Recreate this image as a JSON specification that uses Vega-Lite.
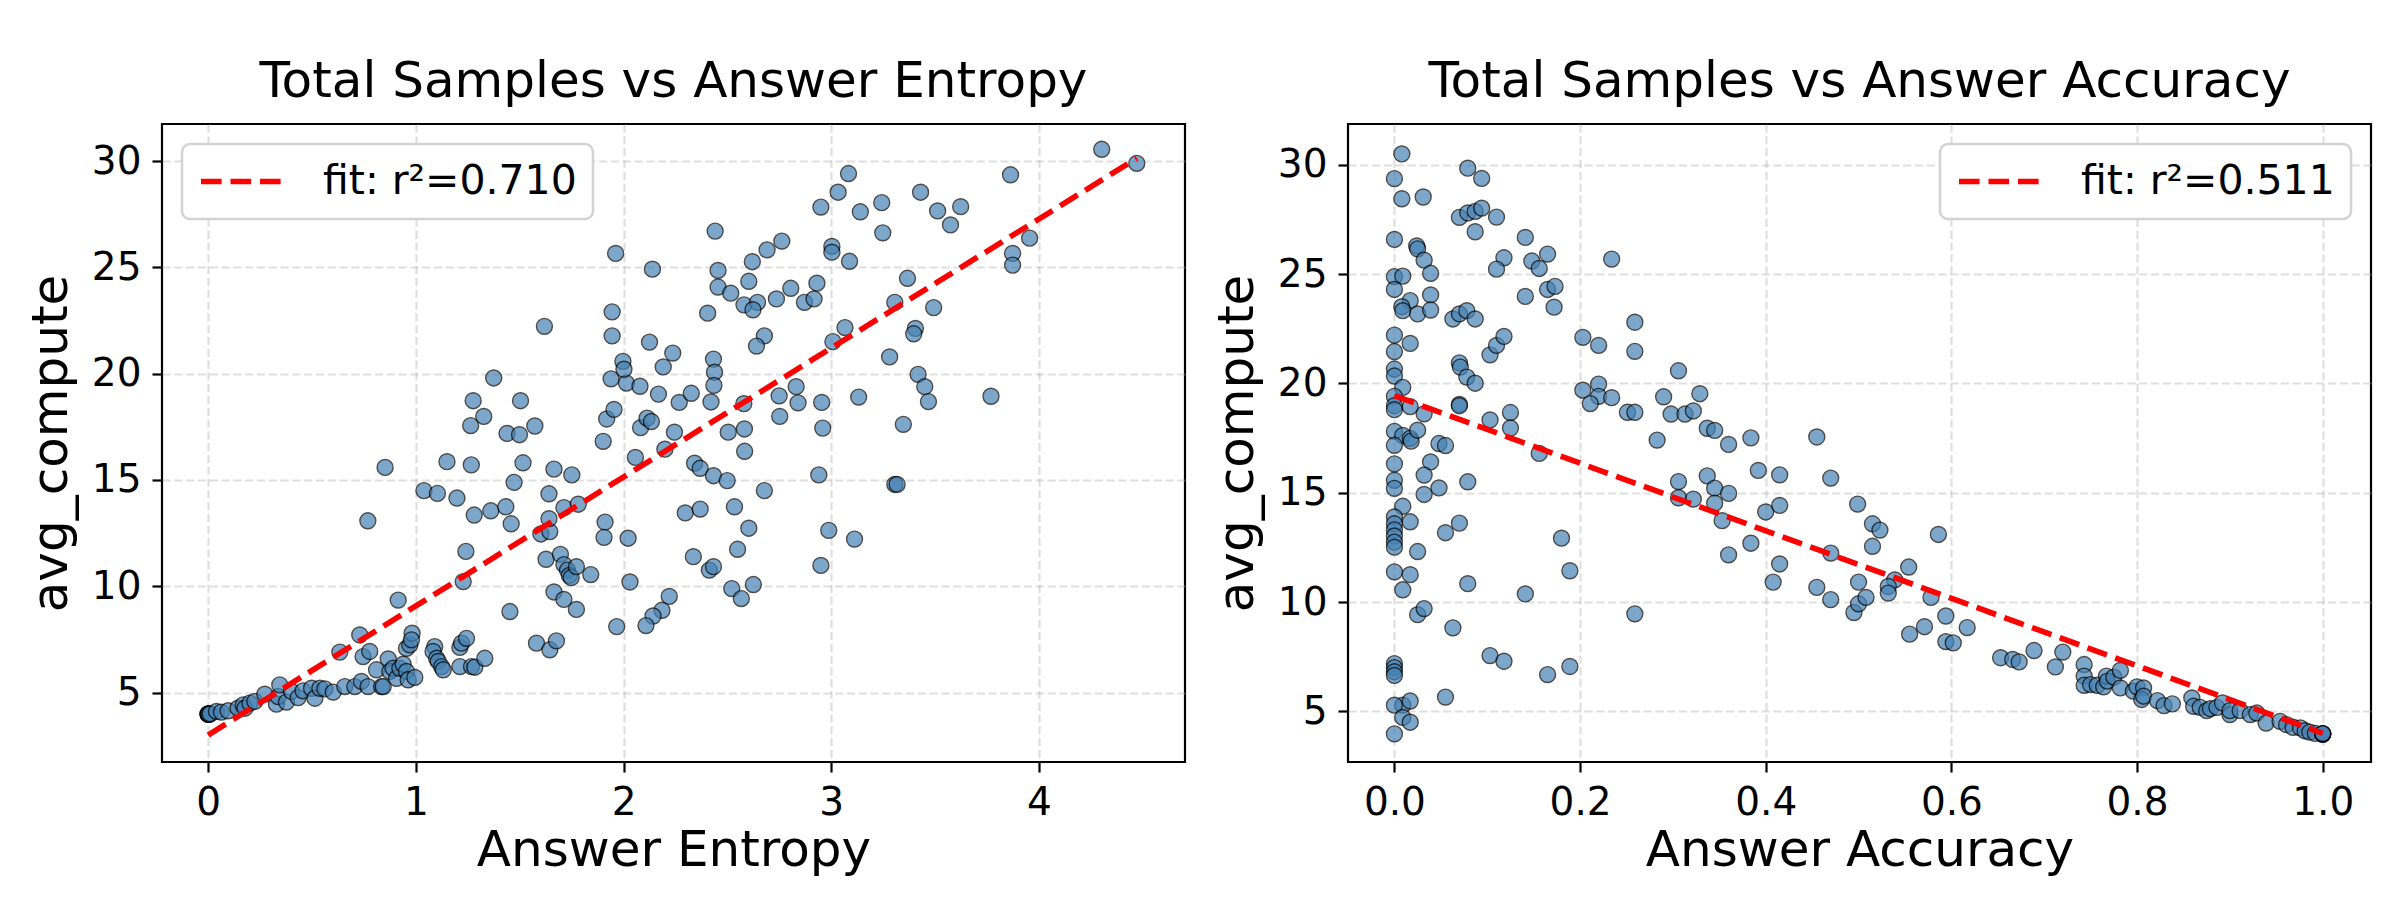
{
  "$schema": "https://vega.github.io/schema/vega-lite/v6.json",
  "padding": {"left": 25, "top": 55, "right": 0, "bottom": 0},
  "background": "white",
  "datasets": {
    "entropy_pts": [
      {"entropy": 0, "avg_compute": 3.98}, {"entropy": 0, "avg_compute": 3.98}, {"entropy": 0, "avg_compute": 3.98},
      {"entropy": 0, "avg_compute": 4.0}, {"entropy": 0.005, "avg_compute": 3.97}, {"entropy": 0.01, "avg_compute": 4.0},
      {"entropy": 0.040, "avg_compute": 4.11}, {"entropy": 0.064, "avg_compute": 4.08}, {"entropy": 0.096, "avg_compute": 4.14},
      {"entropy": 0.144, "avg_compute": 4.26}, {"entropy": 0.169, "avg_compute": 4.42}, {"entropy": 0.177, "avg_compute": 4.26},
      {"entropy": 0.201, "avg_compute": 4.50}, {"entropy": 0.225, "avg_compute": 4.58}, {"entropy": 0.273, "avg_compute": 4.92},
      {"entropy": 0.329, "avg_compute": 4.45}, {"entropy": 0.337, "avg_compute": 4.81}, {"entropy": 0.345, "avg_compute": 5.36},
      {"entropy": 0.377, "avg_compute": 4.55}, {"entropy": 0.401, "avg_compute": 5.05}, {"entropy": 0.433, "avg_compute": 4.76},
      {"entropy": 0.457, "avg_compute": 5.08}, {"entropy": 0.498, "avg_compute": 5.20}, {"entropy": 0.514, "avg_compute": 4.73},
      {"entropy": 0.538, "avg_compute": 5.20}, {"entropy": 0.562, "avg_compute": 5.17}, {"entropy": 0.602, "avg_compute": 5.02},
      {"entropy": 0.634, "avg_compute": 6.90}, {"entropy": 0.658, "avg_compute": 5.28}, {"entropy": 0.706, "avg_compute": 5.28},
      {"entropy": 0.730, "avg_compute": 7.71}, {"entropy": 0.738, "avg_compute": 5.52}, {"entropy": 0.746, "avg_compute": 6.69},
      {"entropy": 0.770, "avg_compute": 5.28}, {"entropy": 0.778, "avg_compute": 6.93}, {"entropy": 0.811, "avg_compute": 6.07},
      {"entropy": 0.835, "avg_compute": 5.28}, {"entropy": 0.843, "avg_compute": 5.28}, {"entropy": 0.867, "avg_compute": 6.58},
      {"entropy": 0.875, "avg_compute": 5.99}, {"entropy": 0.891, "avg_compute": 6.14}, {"entropy": 0.907, "avg_compute": 5.67},
      {"entropy": 0.915, "avg_compute": 9.35}, {"entropy": 0.923, "avg_compute": 6.14}, {"entropy": 0.939, "avg_compute": 6.33},
      {"entropy": 0.955, "avg_compute": 5.99}, {"entropy": 0.963, "avg_compute": 5.60}, {"entropy": 0.955, "avg_compute": 7.08},
      {"entropy": 0.971, "avg_compute": 7.24}, {"entropy": 0.982, "avg_compute": 7.79}, {"entropy": 0.979, "avg_compute": 7.48},
      {"entropy": 0.995, "avg_compute": 5.71}, {"entropy": 1.091, "avg_compute": 7.16}, {"entropy": 1.083, "avg_compute": 6.93},
      {"entropy": 1.100, "avg_compute": 6.61}, {"entropy": 1.108, "avg_compute": 6.46}, {"entropy": 1.124, "avg_compute": 6.22},
      {"entropy": 1.132, "avg_compute": 6.07}, {"entropy": 1.212, "avg_compute": 7.12}, {"entropy": 1.220, "avg_compute": 7.32},
      {"entropy": 1.244, "avg_compute": 7.55}, {"entropy": 1.212, "avg_compute": 6.22}, {"entropy": 1.268, "avg_compute": 6.22},
      {"entropy": 1.284, "avg_compute": 6.19}, {"entropy": 1.332, "avg_compute": 6.61}, {"entropy": 1.228, "avg_compute": 10.22},
      {"entropy": 1.453, "avg_compute": 8.81}, {"entropy": 1.581, "avg_compute": 7.32}, {"entropy": 1.645, "avg_compute": 7.01},
      {"entropy": 1.677, "avg_compute": 7.43},
      {"entropy": 0.769, "avg_compute": 13.08}, {"entropy": 0.852, "avg_compute": 15.59}, {"entropy": 1.039, "avg_compute": 14.50},
      {"entropy": 1.104, "avg_compute": 14.37}, {"entropy": 1.198, "avg_compute": 14.15}, {"entropy": 1.241, "avg_compute": 11.64},
      {"entropy": 1.281, "avg_compute": 13.35}, {"entropy": 1.361, "avg_compute": 13.55}, {"entropy": 1.433, "avg_compute": 13.74},
      {"entropy": 1.459, "avg_compute": 12.94}, {"entropy": 1.602, "avg_compute": 12.46}, {"entropy": 1.645, "avg_compute": 12.57},
      {"entropy": 1.641, "avg_compute": 13.18}, {"entropy": 1.641, "avg_compute": 14.35}, {"entropy": 1.627, "avg_compute": 11.27},
      {"entropy": 1.665, "avg_compute": 9.73}, {"entropy": 1.713, "avg_compute": 9.38}, {"entropy": 1.773, "avg_compute": 8.91},
      {"entropy": 1.696, "avg_compute": 11.50}, {"entropy": 1.713, "avg_compute": 11.02}, {"entropy": 1.730, "avg_compute": 10.76},
      {"entropy": 1.739, "avg_compute": 10.51}, {"entropy": 1.748, "avg_compute": 10.41}, {"entropy": 1.773, "avg_compute": 10.92},
      {"entropy": 1.842, "avg_compute": 10.55}, {"entropy": 1.713, "avg_compute": 13.70}, {"entropy": 1.782, "avg_compute": 13.86},
      {"entropy": 1.751, "avg_compute": 15.24}, {"entropy": 1.665, "avg_compute": 15.51}, {"entropy": 1.516, "avg_compute": 15.81},
      {"entropy": 1.473, "avg_compute": 14.89}, {"entropy": 1.267, "avg_compute": 15.71}, {"entropy": 1.150, "avg_compute": 15.86},
      {"entropy": 1.264, "avg_compute": 17.56}, {"entropy": 1.327, "avg_compute": 17.99}, {"entropy": 1.276, "avg_compute": 18.73},
      {"entropy": 1.375, "avg_compute": 19.80}, {"entropy": 1.439, "avg_compute": 17.19}, {"entropy": 1.499, "avg_compute": 17.13},
      {"entropy": 1.504, "avg_compute": 18.73}, {"entropy": 1.573, "avg_compute": 17.54}, {"entropy": 1.619, "avg_compute": 22.23},
      {"entropy": 1.902, "avg_compute": 16.82}, {"entropy": 1.919, "avg_compute": 17.87}, {"entropy": 1.954, "avg_compute": 18.32},
      {"entropy": 1.940, "avg_compute": 19.76}, {"entropy": 2.014, "avg_compute": 19.56}, {"entropy": 1.997, "avg_compute": 20.58},
      {"entropy": 2.002, "avg_compute": 20.21}, {"entropy": 2.079, "avg_compute": 19.41}, {"entropy": 1.945, "avg_compute": 21.78},
      {"entropy": 1.945, "avg_compute": 22.91}, {"entropy": 1.962, "avg_compute": 25.66}, {"entropy": 2.139, "avg_compute": 24.92},
      {"entropy": 2.125, "avg_compute": 21.49}, {"entropy": 2.191, "avg_compute": 20.32}, {"entropy": 2.237, "avg_compute": 20.97},
      {"entropy": 2.168, "avg_compute": 19.04}, {"entropy": 2.268, "avg_compute": 18.65}, {"entropy": 2.082, "avg_compute": 17.46},
      {"entropy": 2.113, "avg_compute": 17.91}, {"entropy": 2.134, "avg_compute": 17.75}, {"entropy": 2.245, "avg_compute": 17.25},
      {"entropy": 2.199, "avg_compute": 16.45}, {"entropy": 2.057, "avg_compute": 16.06}, {"entropy": 1.911, "avg_compute": 13.02},
      {"entropy": 1.906, "avg_compute": 12.30}, {"entropy": 2.022, "avg_compute": 12.26}, {"entropy": 2.031, "avg_compute": 10.20},
      {"entropy": 2.297, "avg_compute": 13.45}, {"entropy": 2.220, "avg_compute": 9.52}, {"entropy": 2.185, "avg_compute": 8.87},
      {"entropy": 2.142, "avg_compute": 8.60}, {"entropy": 2.108, "avg_compute": 8.15}, {"entropy": 1.967, "avg_compute": 8.10},
      {"entropy": 4.302, "avg_compute": 30.56}, {"entropy": 4.471, "avg_compute": 29.90}, {"entropy": 3.863, "avg_compute": 29.36},
      {"entropy": 3.083, "avg_compute": 29.42}, {"entropy": 3.033, "avg_compute": 28.54}, {"entropy": 2.950, "avg_compute": 27.84},
      {"entropy": 3.430, "avg_compute": 28.54}, {"entropy": 3.140, "avg_compute": 27.62}, {"entropy": 3.243, "avg_compute": 28.05},
      {"entropy": 3.512, "avg_compute": 27.66}, {"entropy": 3.623, "avg_compute": 27.86}, {"entropy": 3.574, "avg_compute": 27.00},
      {"entropy": 3.248, "avg_compute": 26.63}, {"entropy": 2.441, "avg_compute": 26.71}, {"entropy": 2.762, "avg_compute": 26.24},
      {"entropy": 2.691, "avg_compute": 25.83}, {"entropy": 2.620, "avg_compute": 25.27}, {"entropy": 2.455, "avg_compute": 24.86},
      {"entropy": 3.003, "avg_compute": 25.99}, {"entropy": 3.003, "avg_compute": 25.72}, {"entropy": 3.088, "avg_compute": 25.29},
      {"entropy": 3.955, "avg_compute": 26.38}, {"entropy": 3.873, "avg_compute": 25.66}, {"entropy": 3.873, "avg_compute": 25.11},
      {"entropy": 2.603, "avg_compute": 24.35}, {"entropy": 2.455, "avg_compute": 24.08}, {"entropy": 2.516, "avg_compute": 23.79},
      {"entropy": 2.580, "avg_compute": 23.24}, {"entropy": 2.645, "avg_compute": 23.36}, {"entropy": 2.623, "avg_compute": 23.01},
      {"entropy": 2.736, "avg_compute": 23.52}, {"entropy": 2.805, "avg_compute": 24.02}, {"entropy": 2.871, "avg_compute": 23.36},
      {"entropy": 2.931, "avg_compute": 24.26}, {"entropy": 2.917, "avg_compute": 23.52}, {"entropy": 3.367, "avg_compute": 24.49},
      {"entropy": 3.306, "avg_compute": 23.36}, {"entropy": 3.493, "avg_compute": 23.11}, {"entropy": 2.405, "avg_compute": 22.85},
      {"entropy": 3.066, "avg_compute": 22.17}, {"entropy": 3.008, "avg_compute": 21.51}, {"entropy": 3.405, "avg_compute": 22.13},
      {"entropy": 3.397, "avg_compute": 21.88}, {"entropy": 2.678, "avg_compute": 21.78}, {"entropy": 2.640, "avg_compute": 21.30},
      {"entropy": 3.281, "avg_compute": 20.79}, {"entropy": 2.433, "avg_compute": 20.69}, {"entropy": 2.438, "avg_compute": 20.07},
      {"entropy": 2.435, "avg_compute": 19.45}, {"entropy": 2.326, "avg_compute": 19.08}, {"entropy": 2.421, "avg_compute": 18.67},
      {"entropy": 2.579, "avg_compute": 18.59}, {"entropy": 2.749, "avg_compute": 18.96}, {"entropy": 2.831, "avg_compute": 19.39},
      {"entropy": 2.840, "avg_compute": 18.63}, {"entropy": 2.954, "avg_compute": 18.65}, {"entropy": 3.132, "avg_compute": 18.90},
      {"entropy": 3.418, "avg_compute": 19.97}, {"entropy": 3.450, "avg_compute": 19.39}, {"entropy": 3.468, "avg_compute": 18.69},
      {"entropy": 3.769, "avg_compute": 18.94}, {"entropy": 2.752, "avg_compute": 17.99}, {"entropy": 2.504, "avg_compute": 17.25},
      {"entropy": 2.582, "avg_compute": 17.40}, {"entropy": 2.959, "avg_compute": 17.44}, {"entropy": 3.347, "avg_compute": 17.62},
      {"entropy": 2.583, "avg_compute": 16.35}, {"entropy": 2.342, "avg_compute": 15.79}, {"entropy": 2.369, "avg_compute": 15.55},
      {"entropy": 2.433, "avg_compute": 15.20}, {"entropy": 2.499, "avg_compute": 14.97}, {"entropy": 2.940, "avg_compute": 15.24},
      {"entropy": 2.678, "avg_compute": 14.50}, {"entropy": 3.306, "avg_compute": 14.79}, {"entropy": 3.317, "avg_compute": 14.79},
      {"entropy": 2.369, "avg_compute": 13.63}, {"entropy": 2.534, "avg_compute": 13.74}, {"entropy": 2.603, "avg_compute": 12.73},
      {"entropy": 2.988, "avg_compute": 12.63}, {"entropy": 3.112, "avg_compute": 12.22}, {"entropy": 2.336, "avg_compute": 11.39},
      {"entropy": 2.549, "avg_compute": 11.74}, {"entropy": 2.413, "avg_compute": 10.76}, {"entropy": 2.433, "avg_compute": 10.92},
      {"entropy": 2.950, "avg_compute": 10.98}, {"entropy": 2.521, "avg_compute": 9.89}, {"entropy": 2.567, "avg_compute": 9.42},
      {"entropy": 2.625, "avg_compute": 10.08}
    ],
    "accuracy_pts": [
      {"accuracy": 0.008, "avg_compute": 30.50}, {"accuracy": 0, "avg_compute": 29.37}, {"accuracy": 0.008, "avg_compute": 28.45},
      {"accuracy": 0.031, "avg_compute": 28.53}, {"accuracy": 0, "avg_compute": 26.59}, {"accuracy": 0.024, "avg_compute": 26.29},
      {"accuracy": 0.025, "avg_compute": 26.16}, {"accuracy": 0.032, "avg_compute": 25.64}, {"accuracy": 0.039, "avg_compute": 25.04},
      {"accuracy": 0, "avg_compute": 24.89}, {"accuracy": 0.009, "avg_compute": 24.91}, {"accuracy": 0, "avg_compute": 24.30},
      {"accuracy": 0.017, "avg_compute": 23.79}, {"accuracy": 0.008, "avg_compute": 23.51}, {"accuracy": 0.009, "avg_compute": 23.33},
      {"accuracy": 0.025, "avg_compute": 23.18}, {"accuracy": 0.039, "avg_compute": 24.05}, {"accuracy": 0.039, "avg_compute": 23.36},
      {"accuracy": 0, "avg_compute": 22.21}, {"accuracy": 0.017, "avg_compute": 21.83}, {"accuracy": 0, "avg_compute": 21.46},
      {"accuracy": 0, "avg_compute": 20.66}, {"accuracy": 0, "avg_compute": 20.34}, {"accuracy": 0.009, "avg_compute": 19.82},
      {"accuracy": 0, "avg_compute": 19.41}, {"accuracy": 0, "avg_compute": 18.98}, {"accuracy": 0, "avg_compute": 18.80},
      {"accuracy": 0.017, "avg_compute": 18.94}, {"accuracy": 0.032, "avg_compute": 18.61}, {"accuracy": 0, "avg_compute": 17.81},
      {"accuracy": 0.009, "avg_compute": 17.62}, {"accuracy": 0.017, "avg_compute": 17.49}, {"accuracy": 0.018, "avg_compute": 17.36},
      {"accuracy": 0.025, "avg_compute": 17.86}, {"accuracy": 0, "avg_compute": 17.17}, {"accuracy": 0, "avg_compute": 16.32},
      {"accuracy": 0, "avg_compute": 15.57}, {"accuracy": 0, "avg_compute": 15.20}, {"accuracy": 0.039, "avg_compute": 16.41},
      {"accuracy": 0.032, "avg_compute": 15.81}, {"accuracy": 0.032, "avg_compute": 14.92}, {"accuracy": 0.048, "avg_compute": 15.22},
      {"accuracy": 0.009, "avg_compute": 14.38}, {"accuracy": 0, "avg_compute": 13.89}, {"accuracy": 0, "avg_compute": 13.58},
      {"accuracy": 0, "avg_compute": 13.30}, {"accuracy": 0, "avg_compute": 13.02}, {"accuracy": 0, "avg_compute": 12.74},
      {"accuracy": 0, "avg_compute": 12.51}, {"accuracy": 0.017, "avg_compute": 13.67}, {"accuracy": 0.025, "avg_compute": 12.31},
      {"accuracy": 0, "avg_compute": 11.38}, {"accuracy": 0.017, "avg_compute": 11.25}, {"accuracy": 0.009, "avg_compute": 10.56},
      {"accuracy": 0.025, "avg_compute": 9.42}, {"accuracy": 0.032, "avg_compute": 9.70}, {"accuracy": 0, "avg_compute": 7.18},
      {"accuracy": 0, "avg_compute": 7.00}, {"accuracy": 0, "avg_compute": 6.81}, {"accuracy": 0, "avg_compute": 6.64},
      {"accuracy": 0.009, "avg_compute": 5.28}, {"accuracy": 0.017, "avg_compute": 5.47}, {"accuracy": 0, "avg_compute": 5.28},
      {"accuracy": 0.009, "avg_compute": 4.72}, {"accuracy": 0.017, "avg_compute": 4.50}, {"accuracy": 0, "avg_compute": 3.97},
      {"accuracy": 0.048, "avg_compute": 17.25}, {"accuracy": 0.055, "avg_compute": 17.16}, {"accuracy": 0.063, "avg_compute": 22.95},
      {"accuracy": 0.070, "avg_compute": 23.18}, {"accuracy": 0.078, "avg_compute": 23.33}, {"accuracy": 0.087, "avg_compute": 22.95},
      {"accuracy": 0.070, "avg_compute": 20.94}, {"accuracy": 0.071, "avg_compute": 20.75}, {"accuracy": 0.078, "avg_compute": 20.29},
      {"accuracy": 0.087, "avg_compute": 20.01}, {"accuracy": 0.070, "avg_compute": 19.04}, {"accuracy": 0.070, "avg_compute": 18.98},
      {"accuracy": 0.103, "avg_compute": 21.31}, {"accuracy": 0.110, "avg_compute": 21.74}, {"accuracy": 0.118, "avg_compute": 22.15},
      {"accuracy": 0.103, "avg_compute": 18.33}, {"accuracy": 0.125, "avg_compute": 18.67}, {"accuracy": 0.125, "avg_compute": 17.96},
      {"accuracy": 0.079, "avg_compute": 15.50}, {"accuracy": 0.070, "avg_compute": 13.61}, {"accuracy": 0.055, "avg_compute": 13.17},
      {"accuracy": 0.079, "avg_compute": 10.84}, {"accuracy": 0.063, "avg_compute": 8.82}, {"accuracy": 0.103, "avg_compute": 7.55},
      {"accuracy": 0.118, "avg_compute": 7.29}, {"accuracy": 0.055, "avg_compute": 5.65}, {"accuracy": 0.079, "avg_compute": 29.85},
      {"accuracy": 0.094, "avg_compute": 29.38}, {"accuracy": 0.070, "avg_compute": 27.60}, {"accuracy": 0.079, "avg_compute": 27.80},
      {"accuracy": 0.087, "avg_compute": 27.87}, {"accuracy": 0.094, "avg_compute": 28.02}, {"accuracy": 0.110, "avg_compute": 27.61},
      {"accuracy": 0.087, "avg_compute": 26.94}, {"accuracy": 0.141, "avg_compute": 26.68}, {"accuracy": 0.118, "avg_compute": 25.75},
      {"accuracy": 0.110, "avg_compute": 25.23}, {"accuracy": 0.148, "avg_compute": 25.60}, {"accuracy": 0.165, "avg_compute": 25.92},
      {"accuracy": 0.156, "avg_compute": 25.26}, {"accuracy": 0.141, "avg_compute": 23.98}, {"accuracy": 0.165, "avg_compute": 24.30},
      {"accuracy": 0.173, "avg_compute": 24.44}, {"accuracy": 0.172, "avg_compute": 23.49}, {"accuracy": 0.234, "avg_compute": 25.69},
      {"accuracy": 0.203, "avg_compute": 22.11}, {"accuracy": 0.220, "avg_compute": 21.74}, {"accuracy": 0.203, "avg_compute": 19.69},
      {"accuracy": 0.220, "avg_compute": 19.97}, {"accuracy": 0.220, "avg_compute": 19.41}, {"accuracy": 0.211, "avg_compute": 19.08},
      {"accuracy": 0.234, "avg_compute": 19.35}, {"accuracy": 0.156, "avg_compute": 16.80}, {"accuracy": 0.180, "avg_compute": 12.92},
      {"accuracy": 0.189, "avg_compute": 11.43}, {"accuracy": 0.141, "avg_compute": 10.37}, {"accuracy": 0.165, "avg_compute": 6.68},
      {"accuracy": 0.189, "avg_compute": 7.05},
      {"accuracy": 0.259, "avg_compute": 22.80}, {"accuracy": 0.259, "avg_compute": 21.47}, {"accuracy": 0.251, "avg_compute": 18.68},
      {"accuracy": 0.259, "avg_compute": 18.68}, {"accuracy": 0.259, "avg_compute": 9.46}, {"accuracy": 0.306, "avg_compute": 20.58},
      {"accuracy": 0.290, "avg_compute": 19.39}, {"accuracy": 0.298, "avg_compute": 18.60}, {"accuracy": 0.313, "avg_compute": 18.60},
      {"accuracy": 0.322, "avg_compute": 18.74}, {"accuracy": 0.329, "avg_compute": 19.53}, {"accuracy": 0.283, "avg_compute": 17.41},
      {"accuracy": 0.337, "avg_compute": 17.95}, {"accuracy": 0.345, "avg_compute": 17.85}, {"accuracy": 0.360, "avg_compute": 17.21},
      {"accuracy": 0.384, "avg_compute": 17.51}, {"accuracy": 0.306, "avg_compute": 15.51}, {"accuracy": 0.306, "avg_compute": 14.77},
      {"accuracy": 0.322, "avg_compute": 14.71}, {"accuracy": 0.337, "avg_compute": 15.77}, {"accuracy": 0.345, "avg_compute": 15.21},
      {"accuracy": 0.345, "avg_compute": 14.52}, {"accuracy": 0.360, "avg_compute": 14.97}, {"accuracy": 0.353, "avg_compute": 13.72},
      {"accuracy": 0.360, "avg_compute": 12.16}, {"accuracy": 0.384, "avg_compute": 12.69}, {"accuracy": 0.392, "avg_compute": 16.02},
      {"accuracy": 0.400, "avg_compute": 14.12}, {"accuracy": 0.415, "avg_compute": 15.82}, {"accuracy": 0.415, "avg_compute": 14.42},
      {"accuracy": 0.415, "avg_compute": 11.74}, {"accuracy": 0.408, "avg_compute": 10.91}, {"accuracy": 0.455, "avg_compute": 17.55},
      {"accuracy": 0.470, "avg_compute": 15.67}, {"accuracy": 0.470, "avg_compute": 12.24}, {"accuracy": 0.455, "avg_compute": 10.67},
      {"accuracy": 0.470, "avg_compute": 10.11}, {"accuracy": 0.499, "avg_compute": 14.48}, {"accuracy": 0.500, "avg_compute": 10.91},
      {"accuracy": 0.495, "avg_compute": 9.52}, {"accuracy": 0.500, "avg_compute": 9.92},
      {"accuracy": 0.515, "avg_compute": 13.58}, {"accuracy": 0.523, "avg_compute": 13.29}, {"accuracy": 0.515, "avg_compute": 12.55},
      {"accuracy": 0.554, "avg_compute": 11.60}, {"accuracy": 0.539, "avg_compute": 11.01}, {"accuracy": 0.532, "avg_compute": 10.71},
      {"accuracy": 0.532, "avg_compute": 10.41}, {"accuracy": 0.508, "avg_compute": 10.21}, {"accuracy": 0.586, "avg_compute": 13.09},
      {"accuracy": 0.578, "avg_compute": 10.21}, {"accuracy": 0.594, "avg_compute": 9.36}, {"accuracy": 0.617, "avg_compute": 8.83},
      {"accuracy": 0.571, "avg_compute": 8.87}, {"accuracy": 0.555, "avg_compute": 8.53}, {"accuracy": 0.594, "avg_compute": 8.19},
      {"accuracy": 0.602, "avg_compute": 8.13},
      {"accuracy": 0.653, "avg_compute": 7.45}, {"accuracy": 0.666, "avg_compute": 7.37}, {"accuracy": 0.673, "avg_compute": 7.26},
      {"accuracy": 0.689, "avg_compute": 7.78}, {"accuracy": 0.712, "avg_compute": 7.03}, {"accuracy": 0.720, "avg_compute": 7.71},
      {"accuracy": 0.743, "avg_compute": 7.14}, {"accuracy": 0.743, "avg_compute": 6.61}, {"accuracy": 0.743, "avg_compute": 6.19},
      {"accuracy": 0.750, "avg_compute": 6.22}, {"accuracy": 0.757, "avg_compute": 6.19}, {"accuracy": 0.764, "avg_compute": 6.12},
      {"accuracy": 0.767, "avg_compute": 6.61}, {"accuracy": 0.768, "avg_compute": 6.38}, {"accuracy": 0.775, "avg_compute": 6.56},
      {"accuracy": 0.782, "avg_compute": 6.87}, {"accuracy": 0.782, "avg_compute": 6.07}, {"accuracy": 0.796, "avg_compute": 5.92},
      {"accuracy": 0.800, "avg_compute": 6.12}, {"accuracy": 0.807, "avg_compute": 6.07}, {"accuracy": 0.805, "avg_compute": 5.54},
      {"accuracy": 0.807, "avg_compute": 5.69}, {"accuracy": 0.822, "avg_compute": 5.49}, {"accuracy": 0.829, "avg_compute": 5.26},
      {"accuracy": 0.838, "avg_compute": 5.34}, {"accuracy": 0.859, "avg_compute": 5.61}, {"accuracy": 0.861, "avg_compute": 5.23},
      {"accuracy": 0.868, "avg_compute": 5.18}, {"accuracy": 0.875, "avg_compute": 5.03}, {"accuracy": 0.879, "avg_compute": 5.12},
      {"accuracy": 0.886, "avg_compute": 5.18}, {"accuracy": 0.892, "avg_compute": 5.38}, {"accuracy": 0.900, "avg_compute": 4.85},
      {"accuracy": 0.900, "avg_compute": 5.03}, {"accuracy": 0.911, "avg_compute": 5.03}, {"accuracy": 0.922, "avg_compute": 4.85},
      {"accuracy": 0.929, "avg_compute": 4.92}, {"accuracy": 0.939, "avg_compute": 4.46}, {"accuracy": 0.954, "avg_compute": 4.54},
      {"accuracy": 0.961, "avg_compute": 4.39}, {"accuracy": 0.968, "avg_compute": 4.27}, {"accuracy": 0.976, "avg_compute": 4.24},
      {"accuracy": 0.981, "avg_compute": 4.11}, {"accuracy": 0.986, "avg_compute": 4.05}, {"accuracy": 0.992, "avg_compute": 3.99},
      {"accuracy": 1.0, "avg_compute": 3.96}, {"accuracy": 1.0, "avg_compute": 3.96}, {"accuracy": 1.0, "avg_compute": 3.96},
      {"accuracy": 1.0, "avg_compute": 3.97}, {"accuracy": 1.0, "avg_compute": 3.98}
    ],
    "entropy_fit": [
      {"entropy": 0, "avg_compute": 3.0, "series": "fit: r²=0.710"},
      {"entropy": 4.471, "avg_compute": 30.14, "series": "fit: r²=0.710"}
    ],
    "accuracy_fit": [
      {"accuracy": 0, "avg_compute": 19.44, "series": "fit: r²=0.511"},
      {"accuracy": 1.0, "avg_compute": 3.99, "series": "fit: r²=0.511"}
    ]
  },
  "config": {
    "font": "DejaVu Sans",
    "view": {"stroke": "black", "strokeWidth": 2.2},
    "axis": {
      "labelFont": "DejaVu Sans", "labelFontSize": 39, "labelColor": "black",
      "titleFont": "DejaVu Sans", "titleFontSize": 50, "titleFontWeight": "normal", "titleColor": "black",
      "tickColor": "black", "tickSize": 10, "tickWidth": 2.2, "domain": false,
      "grid": true, "gridColor": "#b0b0b0", "gridOpacity": 0.4, "gridDash": [8.2, 3.6], "gridWidth": 2.2,
      "labelPadding": 11, "titlePadding": 15
    },
    "axisX": {"titlePadding": 3},
    "title": {"font": "DejaVu Sans", "fontSize": 50, "fontWeight": "normal", "color": "black", "baseline": "alphabetic", "offset": 17, "frame": "group", "anchor": "middle"},
    "legend": {
      "title": null, "symbolType": "stroke", "symbolSize": 6561, "symbolStrokeWidth": 5.6, "symbolDash": [20.6, 8.9],
      "symbolStrokeColor": "red", "labelFont": "DejaVu Sans", "labelFontSize": 41, "labelColor": "black", "labelOffset": 38,
      "labelLimit": 0, "padding": 16, "clipHeight": 43, "fillColor": "white", "strokeColor": "#d3d3d3", "strokeWidth": 2.5, "cornerRadius": 8, "offset": 20
    }
  },
  "spacing": 24,
  "resolve": {"scale": {"color": "independent"}, "legend": {"color": "independent"}},
  "hconcat": [
    {
      "width": 1023, "height": 638,
      "title": "Total Samples vs Answer Entropy",
      "layer": [
        {
          "data": {"name": "entropy_pts"},
          "mark": {"type": "circle", "size": 254, "color": "#4682b4", "opacity": 0.7, "stroke": "black", "strokeWidth": 1.4},
          "encoding": {
            "x": {"field": "entropy", "type": "quantitative", "scale": {"domain": [-0.222, 4.703], "nice": false, "zero": false}, "axis": {"title": "Answer Entropy", "values": [0, 1, 2, 3, 4], "format": ".0f"}},
            "y": {"field": "avg_compute", "type": "quantitative", "scale": {"domain": [1.73, 31.75], "nice": false, "zero": false}, "axis": {"title": "avg_compute", "values": [5, 10, 15, 20, 25, 30], "format": ".0f"}}
          }
        },
        {
          "data": {"name": "entropy_fit"},
          "mark": {"type": "line", "strokeWidth": 5.6, "strokeDash": [20.6, 8.9]},
          "encoding": {
            "x": {"field": "entropy", "type": "quantitative"},
            "y": {"field": "avg_compute", "type": "quantitative"},
            "color": {"field": "series", "type": "nominal", "scale": {"range": ["red"]}, "legend": {"orient": "top-left"}}
          }
        }
      ]
    },
    {
      "width": 1023, "height": 638,
      "title": "Total Samples vs Answer Accuracy",
      "layer": [
        {
          "data": {"name": "accuracy_pts"},
          "mark": {"type": "circle", "size": 254, "color": "#4682b4", "opacity": 0.7, "stroke": "black", "strokeWidth": 1.4},
          "encoding": {
            "x": {"field": "accuracy", "type": "quantitative", "scale": {"domain": [-0.05, 1.052], "nice": false, "zero": false}, "axis": {"title": "Answer Accuracy", "values": [0, 0.2, 0.4, 0.6, 0.8, 1.0], "format": ".1f"}},
            "y": {"field": "avg_compute", "type": "quantitative", "scale": {"domain": [2.68, 31.87], "nice": false, "zero": false}, "axis": {"title": "avg_compute", "values": [5, 10, 15, 20, 25, 30], "format": ".0f"}}
          }
        },
        {
          "data": {"name": "accuracy_fit"},
          "mark": {"type": "line", "strokeWidth": 5.6, "strokeDash": [20.6, 8.9]},
          "encoding": {
            "x": {"field": "accuracy", "type": "quantitative"},
            "y": {"field": "avg_compute", "type": "quantitative"},
            "color": {"field": "series", "type": "nominal", "scale": {"range": ["red"]}, "legend": {"orient": "top-right"}}
          }
        }
      ]
    }
  ]
}
